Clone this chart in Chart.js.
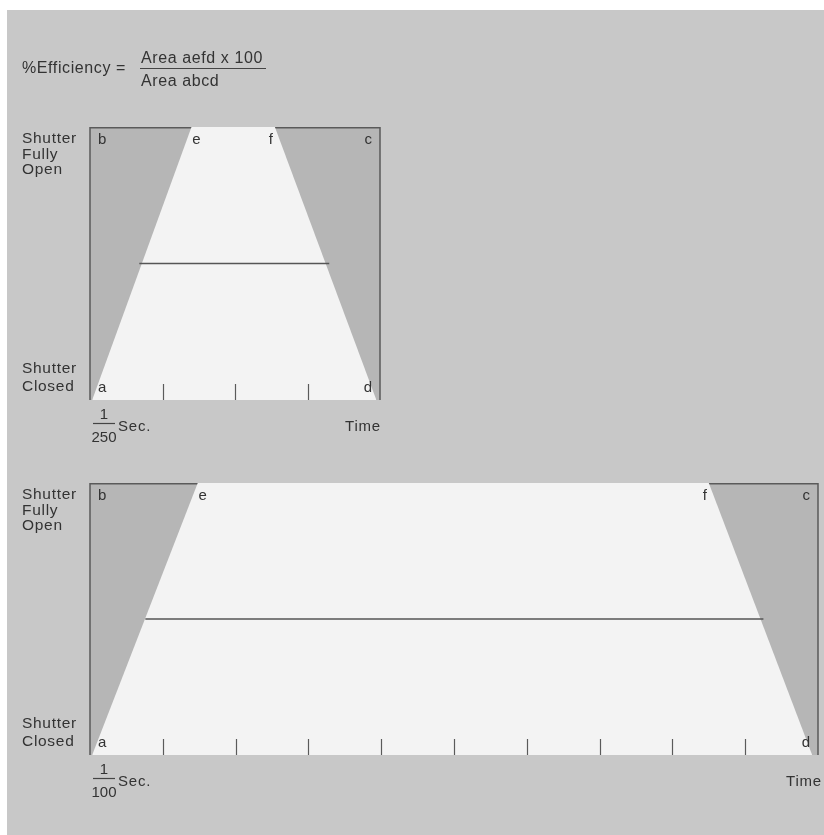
<!DOCTYPE html>
<html><head><meta charset="utf-8">
<script src="https://cdn.jsdelivr.net/npm/chart.js@4.4.1/dist/chart.umd.min.js"></script>
<style>
html,body{margin:0;padding:0;background:#fff;width:824px;height:835px;overflow:hidden;}
#bg{position:absolute;left:7px;top:10px;width:817px;height:825px;background:#c8c8c8;}
canvas{position:absolute;left:0;}
#c1{top:0}
#c2{top:450px}
</style></head><body>
<div id="bg"></div>
<canvas id="c1" width="824" height="450"></canvas>
<canvas id="c2" width="824" height="385"></canvas>
<script>
// ---- data (time in milliseconds, shutter opening 0 = closed, 1 = fully open) ----
const formulaLeft = '%Efficiency =';
const formulaNum = 'Area aefd x 100';
const formulaDen = 'Area abcd';
const openLabel = ['Shutter', 'Fully', 'Open'];
const closedLabel = ['Shutter', 'Closed'];
const axisTitle = 'Time';
const secLabel = 'Sec.';

// top chart: 1/250 sec
const topTime = [0.03, 1.4, 2.55, 3.95];   // a, e, f, d
const topOpen = [0, 1, 1, 0];
const topHalfTime = [0.68, 3.3];
const topHalfOpen = [0.5, 0.5];
const topTicks = [1, 2, 3];
const topMaxTime = 4;
const topDen = '250';

// bottom chart: 1/100 sec
const bottomTime = [0.03, 1.48, 8.5, 9.92]; // a, e, f, d
const bottomOpen = [0, 1, 1, 0];
const bottomHalfTime = [0.76, 9.25];
const bottomHalfOpen = [0.5, 0.5];
const bottomTicks = [1, 2, 3, 4, 5, 6, 7, 8, 9];
const bottomMaxTime = 10;
const bottomDen = '100';

const FONT = '"Liberation Sans", Arial, sans-serif';
const TXT = '#333333';

function txt(ctx, s, x, y, align, size, sp) {
  ctx.save();
  ctx.font = size + 'px ' + FONT;
  ctx.fillStyle = TXT;
  ctx.textAlign = align || 'left';
  ctx.textBaseline = 'alphabetic';
  try { ctx.letterSpacing = (sp == null ? 0.8 : sp) + 'px'; } catch (e) {}
  ctx.fillText(s, x, y);
  ctx.restore();
}

function zip(xs, ys) { return xs.map((x, i) => ({ x: x, y: ys[i] })); }

function makeChart(id, times, opens, halfT, halfO, ticks, maxT, den, pad, withFormula) {
  const decor = {
    id: 'decor',
    beforeDatasetsDraw(chart) {
      const { ctx, chartArea: a } = chart;
      ctx.save();
      ctx.fillStyle = '#b6b6b6';
      ctx.fillRect(a.left, a.top, a.right - a.left, a.bottom - a.top);
      ctx.strokeStyle = '#5a5a5a';
      ctx.lineWidth = 1.5;
      ctx.beginPath();
      ctx.moveTo(a.left, a.bottom);
      ctx.lineTo(a.left, a.top + 0.75);
      ctx.lineTo(a.right, a.top + 0.75);
      ctx.lineTo(a.right, a.bottom);
      ctx.stroke();
      ctx.restore();
    },
    afterDatasetsDraw(chart) {
      const { ctx, chartArea: a, scales } = chart;
      const xs = scales.x;
      const L = a.left, R = a.right, T = a.top, B = a.bottom;
      ctx.save();
      ctx.strokeStyle = '#5a5a5a';
      ctx.lineWidth = 1.2;
      ticks.forEach(v => {
        const x = Math.round(xs.getPixelForValue(v)) + 0.5;
        ctx.beginPath();
        ctx.moveTo(x, B);
        ctx.lineTo(x, B - 16);
        ctx.stroke();
      });
      ctx.restore();
      // corner letters
      txt(ctx, 'b', L + 8, T + 17, 'left', 15, 0);
      txt(ctx, 'e', xs.getPixelForValue(times[1]) + 5, T + 17, 'center', 15, 0);
      txt(ctx, 'f', xs.getPixelForValue(times[2]) - 4, T + 17, 'center', 15, 0);
      txt(ctx, 'c', R - 8, T + 17, 'right', 15, 0);
      txt(ctx, 'a', L + 8, B - 8, 'left', 15, 0);
      txt(ctx, 'd', R - 8, B - 8, 'right', 15, 0);
      // y labels
      const lx = L - 68;
      openLabel.forEach((s, i) => txt(ctx, s, lx, T + 16 + i * 15.5, 'left', 15.5, 0.7));
      closedLabel.forEach((s, i) => txt(ctx, s, lx, B - 27 + i * 18, 'left', 15.5, 0.7));
      // time fraction
      const fx = L + 14;
      txt(ctx, '1', fx, B + 19, 'center', 15, 0);
      ctx.save();
      ctx.strokeStyle = '#444';
      ctx.lineWidth = 1.2;
      ctx.beginPath();
      ctx.moveTo(fx - 11, B + 23.5);
      ctx.lineTo(fx + 11, B + 23.5);
      ctx.stroke();
      ctx.restore();
      txt(ctx, den, fx, B + 42, 'center', 15, 0);
      txt(ctx, secLabel, L + 28, B + 31, 'left', 15);
      txt(ctx, axisTitle, R + (maxT > 5 ? 4 : 1), B + 31, 'right', 15);
      if (withFormula) {
        txt(ctx, formulaLeft, 22, 73, 'left', 16, 0.6);
        txt(ctx, formulaNum, 141, 63, 'left', 16, 0.6);
        ctx.save();
        ctx.strokeStyle = '#444';
        ctx.lineWidth = 1.2;
        ctx.beginPath();
        ctx.moveTo(140, 68.5);
        ctx.lineTo(266, 68.5);
        ctx.stroke();
        ctx.restore();
        txt(ctx, formulaDen, 141, 86, 'left', 16, 0.6);
      }
    }
  };
  return new Chart(document.getElementById(id), {
    type: 'line',
    data: {
      datasets: [
        {
          data: zip(times, opens),
          fill: 'origin',
          backgroundColor: '#f3f3f3',
          borderColor: 'rgba(0,0,0,0)',
          borderWidth: 0,
          pointRadius: 0,
          tension: 0,
          order: 2
        },
        {
          data: zip(halfT, halfO),
          fill: false,
          borderColor: '#555555',
          borderWidth: 1.6,
          pointRadius: 0,
          tension: 0,
          order: 1
        }
      ]
    },
    options: {
      responsive: false,
      animation: false,
      events: [],
      layout: { padding: pad },
      plugins: { legend: { display: false }, tooltip: { enabled: false }, title: { display: false } },
      scales: {
        x: { type: 'linear', min: 0, max: maxT, display: false },
        y: { type: 'linear', min: 0, max: 1, display: false }
      }
    },
    plugins: [decor]
  });
}

makeChart('c1', topTime, topOpen, topHalfTime, topHalfOpen, topTicks, topMaxTime, topDen,
  { left: 90, right: 444, top: 127, bottom: 50 }, true);
makeChart('c2', bottomTime, bottomOpen, bottomHalfTime, bottomHalfOpen, bottomTicks, bottomMaxTime, bottomDen,
  { left: 90, right: 6, top: 33, bottom: 80 }, false);
</script>
</body></html>
